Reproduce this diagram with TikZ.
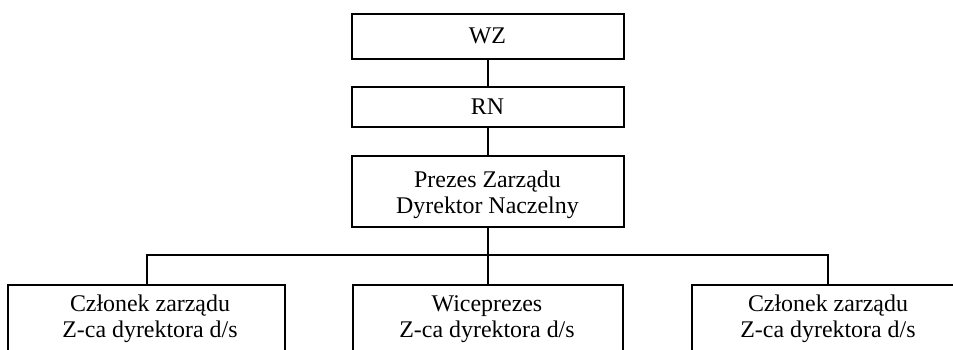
\documentclass[tikz,border=0pt]{standalone}
\usepackage{fontspec}
\setmainfont{Liberation Serif}
\begin{document}
\begin{tikzpicture}[x=1bp,y=-1bp,
  box/.style={draw,line width=2bp,rectangle,inner sep=0pt,align=center,
    font=\fontsize{24}{26}\selectfont},
  txt/.style={inner sep=0pt,align=center,font=\fontsize{24}{26}\selectfont},
  conn/.style={line width=2bp}]
\useasboundingbox (0,0) rectangle (953,349);
\clip (0,0) rectangle (953,349);
\node[box,minimum width=272bp,minimum height=45bp] (wz) at (487.5,36) {WZ};
\node[box,minimum width=272bp,minimum height=40bp] (rn) at (487.5,106.5) {RN};
\node[box,minimum width=272bp,minimum height=71bp] (pz) at (487.5,191) {};
\node[txt] (tp) at (487.5,195) {Prezes Zarządu\\Dyrektor Naczelny};
\node[box,minimum width=276bp,minimum height=130bp,anchor=north] (b1) at (146.5,283.5) {};
\node[box,minimum width=270bp,minimum height=130bp,anchor=north] (b2) at (487.5,283.5) {};
\node[box,minimum width=272bp,minimum height=130bp,anchor=north] (b3) at (827.5,283.5) {};
\node[txt] (t1) at (150,319) {Członek zarządu\\Z-ca dyrektora d/s};
\node[txt] (t2) at (487,319) {Wiceprezes\\Z-ca dyrektora d/s};
\node[txt] (t3) at (828,319) {Członek zarządu\\Z-ca dyrektora d/s};
\coordinate (bus) at (487.5,254.5);
\draw[conn] (wz) -- (rn);
\draw[conn] (rn) -- (pz);
\draw[conn] (pz.south) -- (bus);
\draw[conn] (b1.north) |- (bus) -| (b3.north);
\draw[conn] (bus) -- (b2.north);
\end{tikzpicture}
\end{document}
